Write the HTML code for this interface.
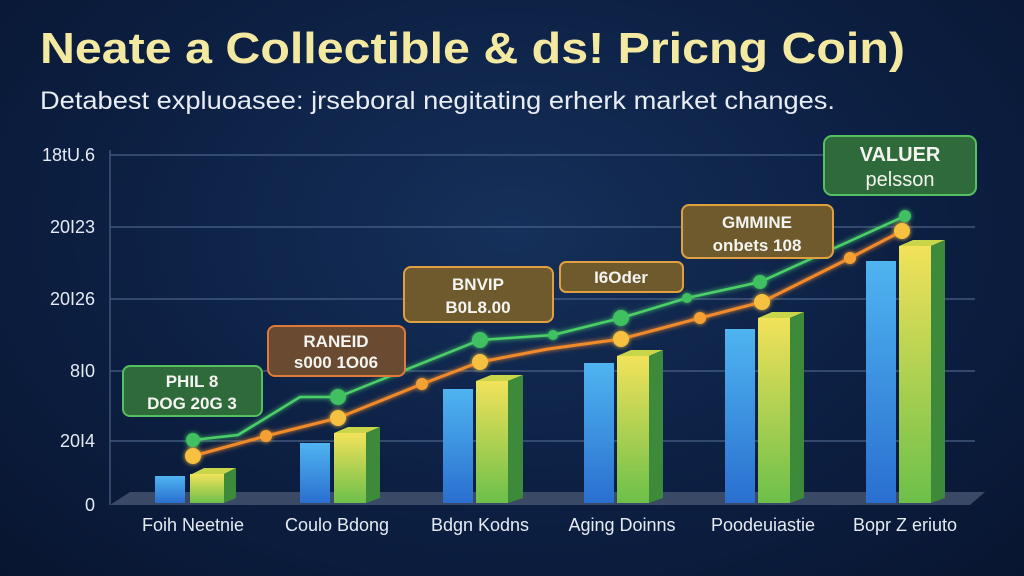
<!DOCTYPE html>
<html><head><meta charset="utf-8"><style>
body{margin:0;width:1024px;height:576px;overflow:hidden;background:radial-gradient(ellipse at 50% 40%,#15305a 0%,#0d2145 50%,#081530 100%);font-family:"Liberation Sans",sans-serif}
</style></head><body>
<svg width="1024" height="576" xmlns="http://www.w3.org/2000/svg" style="position:absolute;left:0;top:0">
<defs>
<linearGradient id="bl" x1="0" y1="0" x2="0" y2="1"><stop offset="0" stop-color="#4fb4f0"/><stop offset="1" stop-color="#2a6fd0"/></linearGradient>
<linearGradient id="yl" x1="0" y1="0" x2="0" y2="1"><stop offset="0" stop-color="#f2e25a"/><stop offset="1" stop-color="#6cc04a"/></linearGradient>
<filter id="gl"><feGaussianBlur stdDeviation="2.5" result="b"/><feMerge><feMergeNode in="b"/><feMergeNode in="SourceGraphic"/></feMerge></filter>
</defs>
<text x="40" y="63" font-size="44" font-weight="bold" fill="#f4e9a0" textLength="865" lengthAdjust="spacingAndGlyphs">Neate a Collectible &amp; ds! Pricng Coin)</text>
<text x="40" y="109" font-size="25" fill="#e8ecf4" textLength="795" lengthAdjust="spacingAndGlyphs">Detabest expluoasee: jrseboral negitating erherk market changes.</text>
<g stroke="#4a6288" stroke-width="1.2">
<line x1="110" y1="155" x2="975" y2="155"/><line x1="110" y1="227" x2="975" y2="227"/><line x1="110" y1="299" x2="975" y2="299"/><line x1="110" y1="371" x2="975" y2="371"/><line x1="110" y1="441" x2="975" y2="441"/><line x1="110" y1="150" x2="110" y2="505"/>
</g>
<polygon points="110,505 970,505 985,492 130,492" fill="#3a4a66"/>
<g font-size="18" fill="#e6eaf2" text-anchor="end">
<text x="95" y="161">18tU.6</text><text x="95" y="233">20I23</text><text x="95" y="305">20I26</text><text x="95" y="377">8I0</text><text x="95" y="447">20I4</text><text x="95" y="511">0</text>
</g>
<g font-size="18" fill="#e6eaf2" text-anchor="middle">
<text x="193" y="531">Foih Neetnie</text><text x="337" y="531">Coulo Bdong</text><text x="480" y="531">Bdgn Kodns</text><text x="622" y="531">Aging Doinns</text><text x="763" y="531">Poodeuiastie</text><text x="905" y="531">Bopr Z eriuto</text>
</g>
<g id="bars">
<rect x="155" y="476" width="30" height="27" fill="url(#bl)"/>
<polygon points="192,474 224,474 236,468 204,468" fill="#c9d64a"/><rect x="190" y="474" width="34" height="29" fill="url(#yl)"/><polygon points="224,474 236,468 236,498 224,503" fill="#3d8a3a"/>
<rect x="300" y="443" width="30" height="60" fill="url(#bl)"/>
<polygon points="334,433 366,433 380,427 348,427" fill="#c9d64a"/><rect x="334" y="433" width="32" height="70" fill="url(#yl)"/><polygon points="366,433 380,427 380,498 366,503" fill="#3d8a3a"/>
<rect x="443" y="389" width="30" height="114" fill="url(#bl)"/>
<polygon points="476,381 508,381 523,375 491,375" fill="#c9d64a"/><rect x="476" y="381" width="32" height="122" fill="url(#yl)"/><polygon points="508,381 523,375 523,498 508,503" fill="#3d8a3a"/>
<rect x="584" y="363" width="30" height="140" fill="url(#bl)"/>
<polygon points="617,356 649,356 663,350 631,350" fill="#c9d64a"/><rect x="617" y="356" width="32" height="147" fill="url(#yl)"/><polygon points="649,356 663,350 663,498 649,503" fill="#3d8a3a"/>
<rect x="725" y="329" width="30" height="174" fill="url(#bl)"/>
<polygon points="758,318 790,318 804,312 772,312" fill="#c9d64a"/><rect x="758" y="318" width="32" height="185" fill="url(#yl)"/><polygon points="790,318 804,312 804,498 790,503" fill="#3d8a3a"/>
<rect x="866" y="261" width="30" height="242" fill="url(#bl)"/>
<polygon points="899,246 931,246 945,240 913,240" fill="#c9d64a"/><rect x="899" y="246" width="32" height="257" fill="url(#yl)"/><polygon points="931,246 945,240 945,498 931,503" fill="#3d8a3a"/>
</g>
<g filter="url(#gl)">
<polyline points="193,440 238,435 300,397 338,397 480,340 553,335 621,318 687,298 760,282 905,216" fill="none" stroke="#4cd068" stroke-width="2.5"/>
<polyline points="193,456 266,436 338,418 422,384 480,362 548,349 621,339 700,318 762,302 850,258 902,231" fill="none" stroke="#f08a2a" stroke-width="3"/>
<g fill="#3fc060"><circle cx="193" cy="440" r="7"/><circle cx="338" cy="397" r="8"/><circle cx="480" cy="340" r="8"/><circle cx="553" cy="335" r="5"/><circle cx="621" cy="318" r="8"/><circle cx="687" cy="298" r="5"/><circle cx="760" cy="282" r="7"/><circle cx="905" cy="216" r="6"/></g>
<g fill="#f5a030"><circle cx="193" cy="456" r="8" fill="#f6c040"/><circle cx="266" cy="436" r="6"/><circle cx="338" cy="418" r="8" fill="#f6c040"/><circle cx="422" cy="384" r="6"/><circle cx="480" cy="362" r="8" fill="#f6c040"/><circle cx="621" cy="339" r="8" fill="#f6c040"/><circle cx="700" cy="318" r="6"/><circle cx="762" cy="302" r="8" fill="#f6c040"/><circle cx="850" cy="258" r="6"/><circle cx="902" cy="231" r="8" fill="#f6c040"/></g>
</g>
<g font-size="17" font-weight="bold" fill="#f4f4f0" text-anchor="middle">
<rect x="123" y="366" width="139" height="50" rx="7" fill="#2e6a3a" stroke="#55c060" stroke-width="2"/>
<text x="192" y="387">PHIL 8</text><text x="192" y="409">DOG 20G 3</text>
<rect x="268" y="326" width="137" height="50" rx="7" fill="#6a4a30" stroke="#e07a3a" stroke-width="2"/>
<text x="336" y="347">RANEID</text><text x="336" y="368">s000 1O06</text>
<rect x="404" y="267" width="149" height="55" rx="7" fill="#6e5a2c" stroke="#e0a040" stroke-width="2"/>
<text x="478" y="290">BNVIP</text><text x="478" y="313">B0L8.00</text>
<rect x="560" y="262" width="123" height="30" rx="6" fill="#6e5a2c" stroke="#e0a040" stroke-width="2"/>
<text x="621" y="283">I6Oder</text>
<rect x="682" y="205" width="151" height="53" rx="7" fill="#6e5a2c" stroke="#e0a040" stroke-width="2"/>
<text x="757" y="228">GMMINE</text><text x="757" y="251">onbets 108</text>
<rect x="824" y="136" width="152" height="59" rx="8" fill="#2e6a3a" stroke="#55c060" stroke-width="2"/>
<text x="900" y="161" font-size="20">VALUER</text><text x="900" y="186" font-size="20" font-weight="normal">pelsson</text>
</g>
</svg>
</body></html>
